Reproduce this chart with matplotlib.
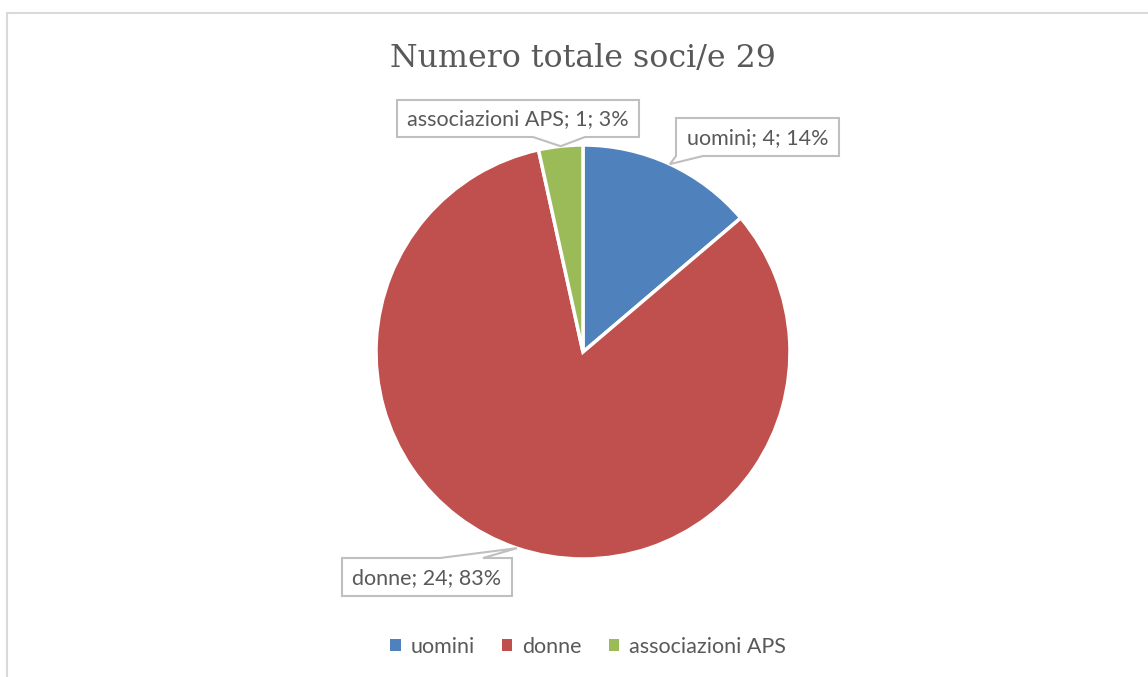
import numpy as np
import matplotlib
matplotlib.use('Agg')
import matplotlib.pyplot as plt
from matplotlib.patches import Polygon, Patch, Rectangle

# data
labels = ['uomini', 'donne', 'associazioni APS']
values = [4, 24, 1]
colors = ['#4F81BD', '#C0504D', '#9BBB59']
title = 'Numero totale soci/e 29'

W, H = 1148, 677
TXT = '#595959'
EDGE = '#BFBFBF'

fig = plt.figure(figsize=(W / 100, H / 100), dpi=100)
ax = fig.add_axes([0, 0, 1, 1])
ax.set_xlim(0, W)
ax.set_ylim(0, H)
ax.axis('off')

# chart area border (runs off the right/bottom edge)
ax.add_patch(Rectangle((7, -20), W + 40, H - 13 + 20, fill=False,
                       ec='#D9D9D9', lw=1.5))

cx, cy, r = 583, H - 352, 207
ax.pie(values, colors=colors, center=(cx, cy), radius=r, startangle=90,
       counterclock=False, wedgeprops=dict(edgecolor='white', linewidth=2.5))
ax.set_xlim(0, W)
ax.set_ylim(0, H)
ax.set_aspect('equal')

ax.text(583, H - 58, title, ha='center', va='center', fontsize=22.8,
        family='DejaVu Serif', color=TXT)

# mid angles of the slices -> callout tips on the rim
total = sum(values)
cum = np.cumsum([0] + values)
mids = [90 - (cum[i] + values[i] / 2) / total * 360 for i in range(len(values))]

# callout layout: box (x0, y0, x1, y1 in top-down px), side, pointer base
callouts = [
    ((676, 118, 839, 156), 'bottom', (676, 703)),
    ((342, 558, 512, 596), 'top', (440, 483)),
    ((397, 100, 639, 137), 'bottom', (533, 585)),
]

for i, (box, side, base) in enumerate(callouts):
    a = np.deg2rad(mids[i])
    tx, ty = cx + r * np.cos(a), cy + r * np.sin(a)
    x0, y0, x1, y1 = box
    y0, y1 = H - y0, H - y1  # flip to data coords (y0 top, y1 bottom)
    if side == 'bottom':
        pts = [(x0, y0), (x1, y0), (x1, y1), (base[1], y1), (tx, ty),
               (base[0], y1), (x0, y1)]
    else:
        pts = [(x0, y1), (x0, y0), (base[0], y0), (tx, ty), (base[1], y0),
               (x1, y0), (x1, y1)]
    ax.add_patch(Polygon(pts, closed=True, fc='white', ec=EDGE, lw=1.5,
                         zorder=5))
    pct = round(values[i] / total * 100)
    ax.text((x0 + x1) / 2, (y0 + y1) / 2 - 1, f'{labels[i]}; {values[i]}; {pct}%',
            ha='center', va='center', fontsize=15.5, family='Lato',
            color=TXT, zorder=6)

handles = [Patch(facecolor=c, edgecolor='none') for c in colors]
fig.legend(handles, labels, loc='center', bbox_to_anchor=(588 / W, 1 - 647 / H),
           ncol=3, frameon=False, handlelength=0.5, handleheight=0.5,
           handletextpad=0.45, columnspacing=1.25,
           prop=dict(family='Lato', size=15.5), labelcolor=TXT)

plt.savefig('out.png', dpi=100)
plt.close()
